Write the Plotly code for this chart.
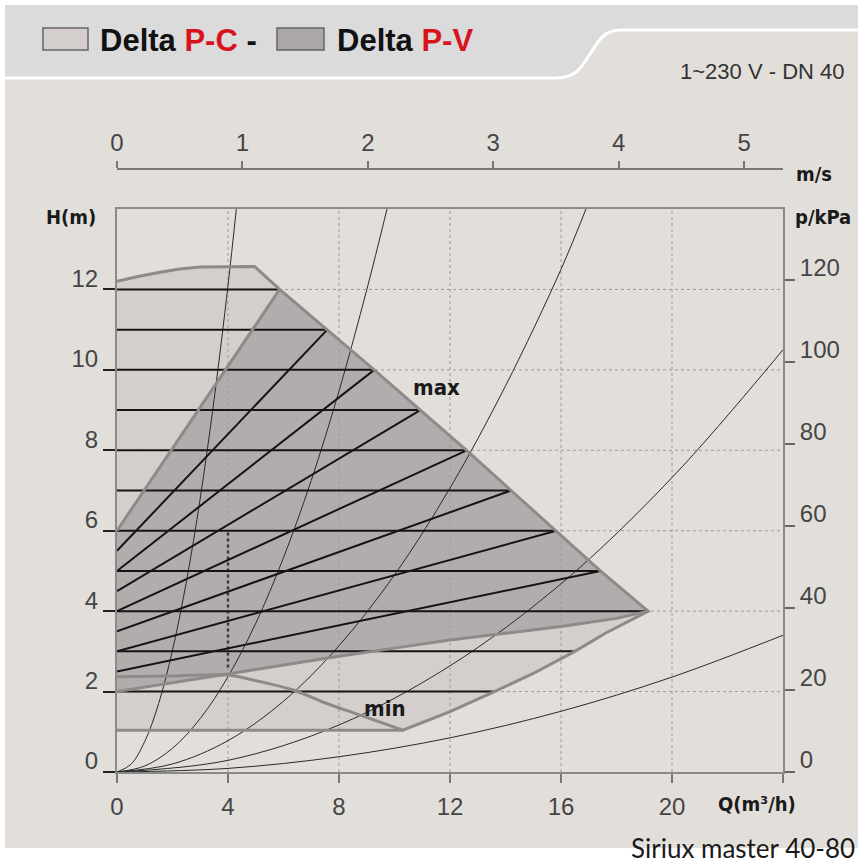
import plotly.graph_objects as go

# ---------------- data ----------------
q_ticks = [0, 4, 8, 12, 16, 20, 24]
q_ticklabels = ["0", "4", "8", "12", "16", "20", ""]
h_ticks = [0, 2, 4, 6, 8, 10, 12]
kpa_ticks = [0, 20, 40, 60, 80, 100, 120]
v_ticks = [0, 1, 2, 3, 4, 5]
grid_q = [4, 8, 12, 16, 20]
grid_h = [2, 4, 6, 8, 10, 12]

# Delta P-C envelope
pc_top_q = [0, 0.75, 1.5, 2.25, 3.0, 4.0, 4.96]
pc_top_h = [12.2, 12.32, 12.42, 12.51, 12.56, 12.57, 12.57]
max_q = [5.86, 7.58, 9.27, 10.93, 12.6, 14.2, 15.83, 17.42, 19.14]
max_h = [12, 11, 10, 9, 8, 7, 6, 5, 4]
pc_low_q = [19.14, 17.6, 16.5, 15.0, 13.6, 12.0, 10.3]
pc_low_h = [4.0, 3.45, 3.0, 2.45, 2.0, 1.5, 1.04]
pc_min_q = [10.3, 0]
pc_min_h = [1.04, 1.04]

# Delta P-V envelope
pv_left_q = [0, 5.86]
pv_left_h = [6.0, 12.0]
pv_low_q = [0, 2, 4, 6, 8, 10, 12, 14, 16, 18, 19.14]
pv_low_h = [2.0, 2.22, 2.45, 2.67, 2.88, 3.08, 3.28, 3.45, 3.62, 3.82, 4.0]

# min speed curve
min_q = [0, 2, 3.95, 5.14, 6.35, 7.54, 8.74, 10.3]
min_h = [2.37, 2.39, 2.41, 2.25, 2.04, 1.71, 1.42, 1.04]

# constant pressure set points
cp_h = [2, 3, 4, 5, 6, 7, 8, 9, 10, 11, 12]
cp_qend = [13.6, 16.5, 19.14, 17.42, 15.83, 14.2, 12.6, 10.93, 9.27, 7.58, 5.86]

# proportional pressure set points
pp_h0 = [2.5, 3.0, 3.5, 4.0, 4.5, 5.0, 5.5]
pp_h1 = [5, 6, 7, 8, 9, 10, 11]
pp_qend = [17.42, 15.83, 14.2, 12.6, 10.93, 9.27, 7.58]

# system curves
sys1_q = [0, 0.5, 1, 1.5, 2, 2.5, 3, 3.5, 4, 4.3]
sys1_h = [0, 0.19, 0.76, 1.70, 3.03, 4.73, 6.81, 9.27, 12.1, 14.0]
sys2_q = [0, 1, 2, 3, 4, 5, 6, 7, 8, 9, 9.73]
sys2_h = [0, 0.15, 0.59, 1.33, 2.37, 3.70, 5.33, 7.25, 9.47, 11.99, 14.0]
sys3_q = [0, 2, 4, 6, 8, 10, 12, 14, 16, 16.9]
sys3_h = [0, 0.2, 0.78, 1.76, 3.14, 4.9, 7.06, 9.6, 12.5, 14.0]
sys4_q = [0, 4, 8, 12, 16, 20, 24]
sys4_h = [0, 0.29, 1.17, 2.64, 4.68, 7.32, 10.5]
sys5_q = [0, 4, 8, 12, 16, 20, 24]
sys5_h = [0, 0.09, 0.38, 0.85, 1.51, 2.36, 3.4]

q_range = [0, 24]
h_range = [0, 14]
kpa_per_m = 9.81
q_per_ms = 4.52

# ---------------- layout geometry ----------------
W, HGT = 866, 865
L, R, T, B = 117, 83, 150, 93
PW, PH = W - L - R, HGT - T - B
plot_top_px = 209


def px(x):
    return (x - L) / PW


def py(y):
    return (HGT - B - y) / PH


C_PC = "#d4cfcd"
C_PV = "#b2adac"
C_EDGE = "#8e8a8a"
C_BLACK = "#141414"
C_BG = "#e2dfdb"
C_BAND = "#dbdbdc"

fig = go.Figure()

# fills
fig.add_trace(go.Scatter(
    x=pc_top_q + max_q + pc_low_q[1:] + pc_min_q[1:],
    y=pc_top_h + max_h + pc_low_h[1:] + pc_min_h[1:],
    fill="toself", fillcolor=C_PC, mode="none", hoverinfo="skip"))
fig.add_trace(go.Scatter(
    x=pv_left_q + max_q[1:] + pv_low_q[::-1][1:],
    y=pv_left_h + max_h[1:] + pv_low_h[::-1][1:],
    fill="toself", fillcolor=C_PV, mode="none", hoverinfo="skip"))

# dotted grid
gx, gy = [], []
for q in grid_q:
    gx += [q, q, None]
    gy += [h_range[0], h_range[1], None]
for h in grid_h:
    gx += [q_range[0], q_range[1], None]
    gy += [h, h, None]
fig.add_trace(go.Scatter(x=gx, y=gy, mode="lines",
                         line=dict(color="#9c9a98", width=1, dash="dot"),
                         hoverinfo="skip"))
fig.add_trace(go.Scatter(x=[grid_q[0], grid_q[0]], y=[2.6, 6.0], mode="lines",
                         line=dict(color="#3a3a3a", width=2.5, dash="dot"),
                         hoverinfo="skip"))

# system curves
for sq, sh in [(sys1_q, sys1_h), (sys2_q, sys2_h), (sys3_q, sys3_h),
               (sys4_q, sys4_h), (sys5_q, sys5_h)]:
    fig.add_trace(go.Scatter(x=sq, y=sh, mode="lines", line_shape="spline",
                             line=dict(color="#2a2a2a", width=1),
                             hoverinfo="skip"))

# constant-pressure lines
hx, hy = [], []
for h, qe in zip(cp_h, cp_qend):
    hx += [0, qe, None]
    hy += [h, h, None]
fig.add_trace(go.Scatter(x=hx, y=hy, mode="lines",
                         line=dict(color=C_BLACK, width=2), hoverinfo="skip"))
# proportional-pressure lines
dx, dy = [], []
for h0, h1, qe in zip(pp_h0, pp_h1, pp_qend):
    dx += [0, qe, None]
    dy += [h0, h1, None]
fig.add_trace(go.Scatter(x=dx, y=dy, mode="lines",
                         line=dict(color=C_BLACK, width=2), hoverinfo="skip"))

# grey envelope outlines
fig.add_trace(go.Scatter(
    x=pc_top_q + max_q + pc_low_q[1:] + pc_min_q[1:],
    y=pc_top_h + max_h + pc_low_h[1:] + pc_min_h[1:],
    mode="lines", line=dict(color=C_EDGE, width=3), hoverinfo="skip"))
fig.add_trace(go.Scatter(x=pv_left_q, y=pv_left_h, mode="lines",
                         line=dict(color=C_EDGE, width=3), hoverinfo="skip"))
fig.add_trace(go.Scatter(x=pv_low_q, y=pv_low_h, mode="lines",
                         line=dict(color=C_EDGE, width=3), hoverinfo="skip"))
fig.add_trace(go.Scatter(x=min_q, y=min_h, mode="lines", line_shape="spline",
                         line=dict(color=C_EDGE, width=3), hoverinfo="skip"))

# helper traces to activate extra axes
fig.add_trace(go.Scatter(x=[0], y=[0], xaxis="x2", yaxis="y", mode="none",
                         hoverinfo="skip"))
fig.add_trace(go.Scatter(x=[0], y=[0], xaxis="x", yaxis="y2", mode="none",
                         hoverinfo="skip"))

tick_font = dict(family="Liberation Sans, Arial, sans-serif", size=24, color="#454545")
bold_font = dict(family="Liberation Sans Narrow, DejaVu Sans Condensed, Liberation Sans, Arial",
                 size=20, color="#1a1a1a", weight="bold")

dom_top = (HGT - B - plot_top_px) / PH
fig.update_layout(
    width=W, height=HGT,
    margin=dict(l=L, r=R, t=T, b=B),
    paper_bgcolor="white", plot_bgcolor="rgba(0,0,0,0)",
    showlegend=False,
    xaxis=dict(range=q_range, tickvals=q_ticks, ticktext=q_ticklabels,
               ticks="outside", ticklen=9, tickwidth=1.5, tickcolor="#777",
               showline=True, linecolor="#8a8a8a", linewidth=2, mirror=True,
               showgrid=False, zeroline=False, tickfont=tick_font,
               ticklabelstandoff=3),
    yaxis=dict(range=h_range, domain=[0, dom_top], tickvals=h_ticks,
               ticks="outside", ticklen=12, tickwidth=1.5, tickcolor="#222",
               showline=True, linecolor="#8a8a8a", linewidth=2,
               showgrid=False, zeroline=False, tickfont=tick_font,
               ticklabelshift=-11),
    yaxis2=dict(range=[h_range[0] * kpa_per_m, h_range[1] * kpa_per_m],
                overlaying="y", side="right", anchor="x", tickvals=kpa_ticks,
                ticks="outside", ticklen=10, tickwidth=1.5, tickcolor="#666",
                showline=True, linecolor="#8a8a8a", linewidth=2,
                showgrid=False, zeroline=False, tickfont=tick_font,
                ticklabelshift=-12),
    xaxis2=dict(range=[q_range[0] / q_per_ms, q_range[1] / q_per_ms],
                overlaying="x", side="top", anchor="free",
                position=(HGT - B - 169) / PH, tickvals=v_ticks,
                ticks="outside", ticklen=7, tickwidth=1.5, tickcolor="#777",
                showline=True, linecolor="#7a7a7a", linewidth=2,
                showgrid=False, zeroline=False, tickfont=tick_font,
                ticklabelstandoff=0),
)

# background decorations
shapes = [
    dict(type="rect", xref="paper", yref="paper", layer="below",
         x0=px(5), x1=px(858), y0=py(848), y1=py(5),
         fillcolor=C_BG, line=dict(width=0)),
    dict(type="path", xref="paper", yref="paper", layer="below",
         path=(f"M {px(5)},{py(5)} L {px(858)},{py(5)} L {px(858)},{py(30)} "
               f"L {px(622)},{py(30)} C {px(605)},{py(30)} {px(600)},{py(38)} {px(590)},{py(54)} "
               f"C {px(580)},{py(70)} {px(575)},{py(78)} {px(555)},{py(78)} "
               f"L {px(5)},{py(78)} Z"),
         fillcolor=C_BAND, line=dict(width=0)),
    dict(type="path", xref="paper", yref="paper", layer="below",
         path=(f"M {px(5)},{py(78)} L {px(555)},{py(78)} "
               f"C {px(575)},{py(78)} {px(580)},{py(70)} {px(590)},{py(54)} "
               f"C {px(600)},{py(38)} {px(605)},{py(30)} {px(622)},{py(30)} "
               f"L {px(858)},{py(30)}"),
         line=dict(color="white", width=3)),
    dict(type="rect", xref="paper", yref="paper",
         x0=px(43), x1=px(88), y0=py(50), y1=py(28),
         fillcolor=C_PC, line=dict(color="#666666", width=1.5)),
    dict(type="rect", xref="paper", yref="paper",
         x0=px(277), x1=px(324), y0=py(50), y1=py(28),
         fillcolor="#aca7a7", line=dict(color="#666666", width=1.5)),
]
fig.update_layout(shapes=shapes)

title_font = dict(family="Liberation Sans, Arial, sans-serif", size=31,
                  color="#111111", weight="bold")
red = "#d7141d"
annotations = [
    dict(text=f"Delta <span style='color:{red}'>P-C</span> -", x=px(98), y=py(40),
         xanchor="left", yanchor="middle", font=title_font),
    dict(text=f"Delta <span style='color:{red}'>P-V</span>", x=px(335), y=py(40),
         xanchor="left", yanchor="middle", font=title_font),
    dict(text="1~230 V - DN 40", x=px(846), y=py(71), xanchor="right", yanchor="middle",
         font=dict(family="Liberation Sans, Arial, sans-serif", size=22, color="#333")),
    dict(text="H(m)", x=px(98), y=py(217), xanchor="right", yanchor="middle", font=bold_font),
    dict(text="p/kPa", x=px(793), y=py(217), xanchor="left", yanchor="middle", font=bold_font),
    dict(text="m/s", x=px(794), y=py(174), xanchor="left", yanchor="middle", font=bold_font),
    dict(text="Q(m³/h)", x=px(716), y=py(804), xanchor="left", yanchor="middle", font=bold_font),
    dict(text="Siriux master 40-80", x=px(857), y=py(848), xanchor="right", yanchor="middle",
         font=dict(family="Lato, Carlito, sans-serif", size=26, color="#1a1a1a")),
]
for a in annotations:
    a.update(xref="paper", yref="paper", showarrow=False)
annotations += [
    dict(text="max", x=11.5, y=9.55, xref="x", yref="y", showarrow=False,
         font=dict(bold_font, size=22)),
    dict(text="min", x=9.64, y=1.59, xref="x", yref="y", showarrow=False,
         font=dict(bold_font, size=22)),
]
fig.update_layout(annotations=annotations)

fig.write_html("out.html", config={"displayModeBar": False},
               post_script="document.body.style.margin='0px';document.body.style.padding='0px';")
